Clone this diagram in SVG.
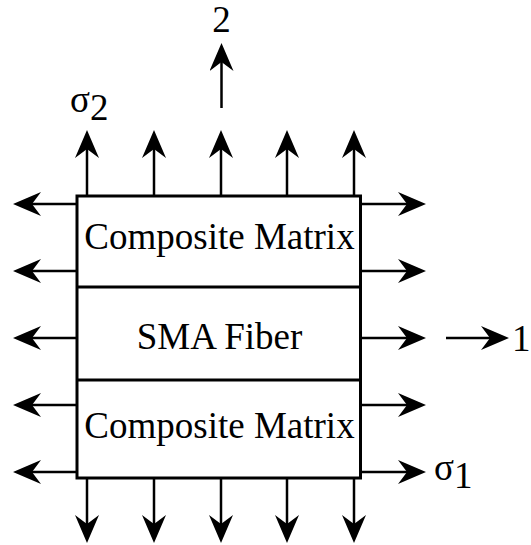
<svg xmlns="http://www.w3.org/2000/svg" width="531" height="545" viewBox="0 0 531 545">
<style>
text{font-family:'Liberation Serif','Times New Roman',serif;font-size:37px;fill:#000}
.c{text-anchor:middle}
.ln{stroke:#000;stroke-width:2.5;fill:none;marker-end:url(#ah)}
.bx{stroke:#000;stroke-width:3;fill:#fff}
.dv{stroke:#000;stroke-width:3}
</style>
<defs>
<marker id="ah" viewBox="0 0 28 24" refX="9" refY="12" markerWidth="28" markerHeight="24" markerUnits="userSpaceOnUse" orient="auto">
<path d="M0,0 L28,12 L0,24 L9,12 Z" fill="#000"/>
</marker>
</defs>
<g id="connectors">
<line class="ln" x1="87" y1="196" x2="87" y2="149"/>
<line class="ln" x1="154" y1="196" x2="154" y2="149"/>
<line class="ln" x1="221" y1="196" x2="221" y2="149"/>
<line class="ln" x1="287" y1="196" x2="287" y2="149"/>
<line class="ln" x1="354" y1="196" x2="354" y2="149"/>
<line class="ln" x1="87" y1="478" x2="87" y2="524"/>
<line class="ln" x1="154" y1="478" x2="154" y2="524"/>
<line class="ln" x1="221" y1="478" x2="221" y2="524"/>
<line class="ln" x1="287" y1="478" x2="287" y2="524"/>
<line class="ln" x1="354" y1="478" x2="354" y2="524"/>
<line class="ln" x1="77" y1="204" x2="32" y2="204"/>
<line class="ln" x1="77" y1="271" x2="32" y2="271"/>
<line class="ln" x1="77" y1="338" x2="32" y2="338"/>
<line class="ln" x1="77" y1="405" x2="32" y2="405"/>
<line class="ln" x1="77" y1="472" x2="32" y2="472"/>
<line class="ln" x1="360" y1="204" x2="407" y2="204"/>
<line class="ln" x1="360" y1="271" x2="407" y2="271"/>
<line class="ln" x1="360" y1="338" x2="407" y2="338"/>
<line class="ln" x1="360" y1="405" x2="407" y2="405"/>
<line class="ln" x1="360" y1="472" x2="407" y2="472"/>
<line class="ln" x1="221.5" y1="108" x2="221.5" y2="62"/>
<line class="ln" x1="446" y1="338" x2="490" y2="338"/>
</g>
<g id="box">
<rect class="bx" x="77" y="196" width="283.5" height="282"/>
<line class="dv" x1="77" y1="287" x2="360.5" y2="287"/>
<line class="dv" x1="77" y1="380" x2="360.5" y2="380"/>
</g>
<g id="matrix-top"><text class="c" x="219.5" y="249">Composite Matrix</text></g>
<g id="fiber"><text class="c" x="219.5" y="349">SMA Fiber</text></g>
<g id="matrix-bottom"><text class="c" x="219.5" y="438">Composite Matrix</text></g>
<g id="labels">
<text class="c" x="221.5" y="32">2</text>
<text x="512" y="351">1</text>
<text x="70" y="112" font-size="48">σ<tspan dy="8" font-size="37">2</tspan></text>
<text x="434" y="480" font-size="48">σ<tspan dy="8" font-size="37">1</tspan></text>
</g>
</svg>
